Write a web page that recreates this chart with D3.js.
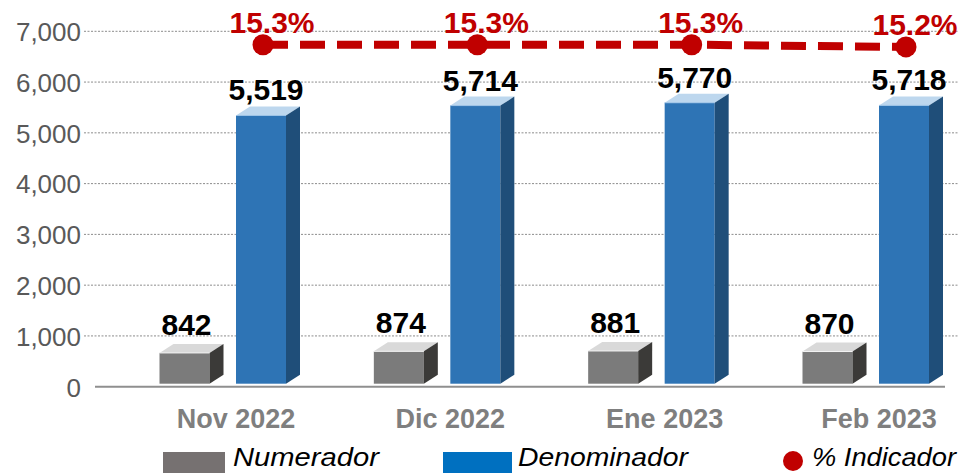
<!DOCTYPE html>
<html>
<head>
<meta charset="utf-8">
<script src="https://cdn.jsdelivr.net/npm/d3@7/dist/d3.min.js"></script>
<style>
  html, body { margin: 0; padding: 0; background: #ffffff; }
  svg { display: block; }
</style>
</head>
<body>
<svg id="chart" width="959" height="473"></svg>
<script>
// Monthly indicator: numerator, denominator and resulting percentage
const categories = ["Nov 2022", "Dic 2022", "Ene 2023", "Feb 2023"];
const numerador = [842, 874, 881, 870];
const denominador = [5519, 5714, 5770, 5718];
const indicador = [15.3, 15.3, 15.3, 15.2];
const yTicks = [0, 1000, 2000, 3000, 4000, 5000, 6000, 7000];
const legendItems = ["Numerador", "Denominador", "% Indicador"];

const W = 959, H = 473;
const svg = d3.select("#chart");

const y = d3.scaleLinear().domain([0, 7000]).range([386.7, 31.3]);
const y2 = d3.scaleLinear().domain([0, 15.9]).range([386.7, 31.3]);
const x = d3.scalePoint().domain(categories).range([230, 873]);

const fmt = d3.format(",");
const depthX = 14, depthY = 9, barW = 50;

// gridlines (dotted) and tick labels
const grid = svg.append("g");
grid.selectAll("line.grid")
  .data(yTicks.filter(d => d > 0))
  .join("line")
  .attr("class", "grid")
  .attr("x1", 84).attr("x2", W)
  .attr("y1", d => y(d)).attr("y2", d => y(d))
  .attr("stroke", "#8c8c8c")
  .attr("stroke-width", 1)
  .attr("stroke-dasharray", "2,1.5");

const yAxis = d3.axisLeft(y).tickValues(yTicks).tickFormat(fmt).tickSize(0).tickPadding(0);
const ya = svg.append("g").attr("transform", "translate(81,0)").call(yAxis);
ya.select(".domain").remove();
ya.selectAll("text")
  .attr("fill", "#595959")
  .attr("font-family", "'Liberation Sans', Arial, sans-serif")
  .attr("font-size", 26)
  .attr("dy", "0.36em");

// floor line
svg.append("line")
  .attr("x1", 95).attr("x2", 945)
  .attr("y1", y(0)).attr("y2", y(0))
  .attr("stroke", "#8f8f8f").attr("stroke-width", 2);

// 3D bar: front face, top face and right side
function bar3d(g, x0, v, c) {
  const yv = y(v);
  const base = y(0) - 3;
  const ft = yv + depthY;
  g.append("rect")
    .attr("x", x0).attr("y", ft)
    .attr("width", barW).attr("height", base - ft)
    .attr("fill", c.front);
  g.append("polygon")
    .attr("points", [[x0, ft], [x0 + barW, ft], [x0 + barW + depthX, yv], [x0 + depthX, yv]].map(p => p.join(",")).join(" "))
    .attr("fill", c.top);
  g.append("polygon")
    .attr("points", [[x0 + barW, ft], [x0 + barW + depthX, yv], [x0 + barW + depthX, base - depthY], [x0 + barW, base]].map(p => p.join(",")).join(" "))
    .attr("fill", c.side);
  g.append("line")
    .attr("x1", x0).attr("x2", x0 + barW)
    .attr("y1", ft).attr("y2", ft)
    .attr("stroke", c.edge).attr("stroke-width", 1);
}

const grayC = { front: "#7b7b7b", top: "#d9d9d9", side: "#3b3a38", edge: "#f2f2f2" };
const blueC = { front: "#2e74b5", top: "#bdd7ee", side: "#1f4e79", edge: "#9dc3e6" };

const bars = svg.append("g");
const labelFont = "'Liberation Sans', Arial, sans-serif";

categories.forEach((cat, i) => {
  const c = x(cat);
  const gx = c - 70.5;
  const bx = c + 6;
  const g = bars.append("g");
  bar3d(g, gx, numerador[i], grayC);
  bar3d(g, bx, denominador[i], blueC);

  g.append("text")
    .attr("x", gx + barW / 2 + 2)
    .attr("y", y(numerador[i]) - 9)
    .attr("text-anchor", "middle")
    .attr("font-family", labelFont)
    .attr("font-weight", "bold")
    .attr("font-size", 30)
    .attr("fill", "#000")
    .text(fmt(numerador[i]));

  g.append("text")
    .attr("x", bx + barW / 2 + 5)
    .attr("y", y(denominador[i]) - 6)
    .attr("text-anchor", "middle")
    .attr("font-family", labelFont)
    .attr("font-weight", "bold")
    .attr("font-size", 30)
    .attr("fill", "#000")
    .text(fmt(denominador[i]));
});

// category axis labels
const xa = svg.append("g").attr("transform", "translate(6,0)");
xa.selectAll("text")
  .data(categories)
  .join("text")
  .attr("x", d => x(d))
  .attr("y", 428)
  .attr("text-anchor", "middle")
  .attr("font-family", labelFont)
  .attr("font-weight", "bold")
  .attr("font-size", 27)
  .attr("fill", "#7f7f7f")
  .text(d => d);

// percentage line on secondary scale
const lx = (d, i) => x(categories[i]) + 6 + barW / 2 + depthX / 2 - 5;
const pts = indicador.map((v, i) => [lx(v, i), y2(v)]);
svg.append("path")
  .attr("d", d3.line()(pts))
  .attr("fill", "none")
  .attr("stroke", "#c00000")
  .attr("stroke-width", 8)
  .attr("stroke-dasharray", "25,12");
svg.append("g").selectAll("circle")
  .data(pts)
  .join("circle")
  .attr("cx", d => d[0]).attr("cy", d => d[1])
  .attr("r", 10.5)
  .attr("fill", "#c00000");
svg.append("g").selectAll("text")
  .data(indicador)
  .join("text")
  .attr("x", (d, i) => pts[i][0] + 9)
  .attr("y", (d, i) => pts[i][1] - 12)
  .attr("text-anchor", "middle")
  .attr("font-family", labelFont)
  .attr("font-weight", "bold")
  .attr("font-size", 30)
  .attr("fill", "#c00000")
  .text(d => d.toFixed(1) + "%");

// legend
const legend = svg.append("g");
const legFont = "'Liberation Sans Narrow', 'Liberation Sans', Arial, sans-serif";
legend.append("rect").attr("x", 163).attr("y", 452).attr("width", 62).attr("height", 21).attr("fill", "#767171");
legend.append("rect").attr("x", 443).attr("y", 452).attr("width", 69).attr("height", 21).attr("fill", "#0070c0");
legend.append("circle").attr("cx", 793).attr("cy", 461).attr("r", 10).attr("fill", "#c00000");
const legPos = [[233, 146], [518, 170], [812, 144]];
legend.selectAll("text")
  .data(legendItems)
  .join("text")
  .attr("x", (d, i) => legPos[i][0])
  .attr("y", 466)
  .attr("textLength", (d, i) => legPos[i][1])
  .attr("lengthAdjust", "spacingAndGlyphs")
  .attr("font-family", legFont)
  .attr("font-style", "italic")
  .attr("font-size", 25)
  .attr("fill", "#000")
  .text(d => d);
</script>
</body>
</html>
